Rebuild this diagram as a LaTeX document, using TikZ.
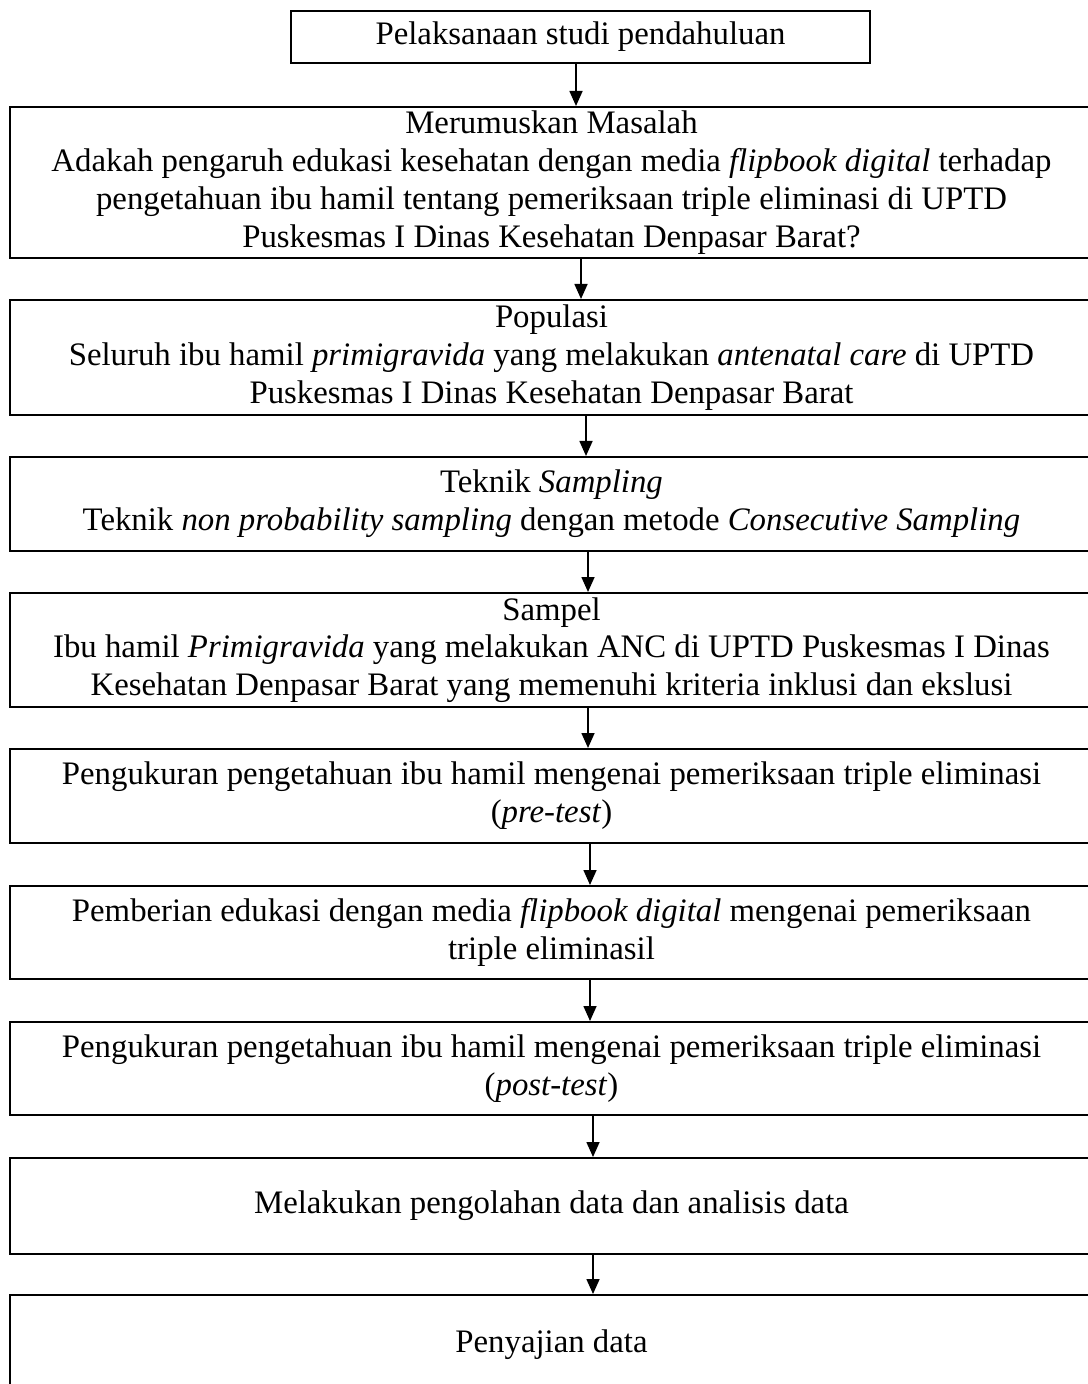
\documentclass[tikz,border=0pt]{standalone}
\usepackage{fontspec}
\setmainfont{Liberation Serif}
\usepackage{tikz}
\usetikzlibrary{positioning, arrows.meta}

\begin{document}
\begin{tikzpicture}[
    % GLOBAL CFG
    x=0.5pt, y=-0.5pt,
    font=\fontsize{16.4}{18.9}\selectfont,
    >={Triangle[length=7.5pt,width=6.5pt]},
    % Styles
    block/.style={% For the wide boxes
        rectangle,
        draw,
        line width=1pt,
        align=center,
        inner sep=0pt,
        minimum width=541.5pt,
        },
    topblock/.style={% For the first box
        rectangle,
        draw,
        line width=1pt,
        inner sep=0pt,
        minimum width=289.5pt,
        minimum height=26pt,
        },
    ArrowF/.style={% Arrows between boxes
        ->,
        line width=0.8pt,
        },
    ]

    \useasboundingbox (0,0) rectangle (1087,1384);

    % Draw the boxes named b#
    \node [topblock] (b1) at (580.5,37) {Pelaksanaan studi pendahuluan};
    \node [block, minimum height=75.5pt] (b2) at (551.5,182.5) {Merumuskan Masalah\\
        Adakah pengaruh edukasi kesehatan dengan media \textit{flipbook digital} terhadap\\
        pengetahuan ibu hamil tentang pemeriksaan triple eliminasi di UPTD\\
        Puskesmas I Dinas Kesehatan Denpasar Barat?};
    \node [block, minimum height=57.5pt] (b3) at (551.5,357.5) {Populasi\\
        Seluruh ibu hamil \textit{primigravida} yang melakukan \textit{antenatal care} di UPTD\\
        Puskesmas I Dinas Kesehatan Denpasar Barat};
    \node [block, minimum height=47pt] (b4) at (551.5,504) {Teknik \textit{Sampling}\\
        Teknik \textit{non probability sampling} dengan metode \textit{Consecutive Sampling}};
    \node [block, minimum height=57pt] (b5) at (551.5,650) {Sampel\\
        Ibu hamil \textit{Primigravida} yang melakukan ANC di UPTD Puskesmas I Dinas\\
        Kesehatan Denpasar Barat yang memenuhi kriteria inklusi dan ekslusi};
    \node [block, minimum height=47pt] (b6) at (551.5,796) {Pengukuran pengetahuan ibu hamil mengenai pemeriksaan triple eliminasi\\
        (\textit{pre-test})};
    \node [block, minimum height=46.5pt] (b7) at (551.5,932.5) {Pemberian edukasi dengan media \textit{flipbook digital} mengenai pemeriksaan\\
        triple eliminasil};
    \node [block, minimum height=46.5pt] (b8) at (551.5,1068.5) {Pengukuran pengetahuan ibu hamil mengenai pemeriksaan triple eliminasi\\
        (\textit{post-test})};
    \node [block, minimum height=48pt] (b9) at (551.5,1206) {Melakukan pengolahan data dan analisis data};
    \node [block, minimum height=50pt] (b10) at (551.5,1345) {Penyajian data};

    % Connect the boxes
    \foreach \a/\b/\s in {b1/b2/24.5, b2/b3/29.5, b3/b4/34.5, b4/b5/36.5, b5/b6/36.5,
                          b6/b7/38.5, b7/b8/38.5, b8/b9/41.5, b9/b10/41.5}
        \draw [ArrowF] ([xshift=\s*0.5pt]\b.north |- \a.south) -- ([xshift=\s*0.5pt]\b.north);

\end{tikzpicture}
\end{document}
